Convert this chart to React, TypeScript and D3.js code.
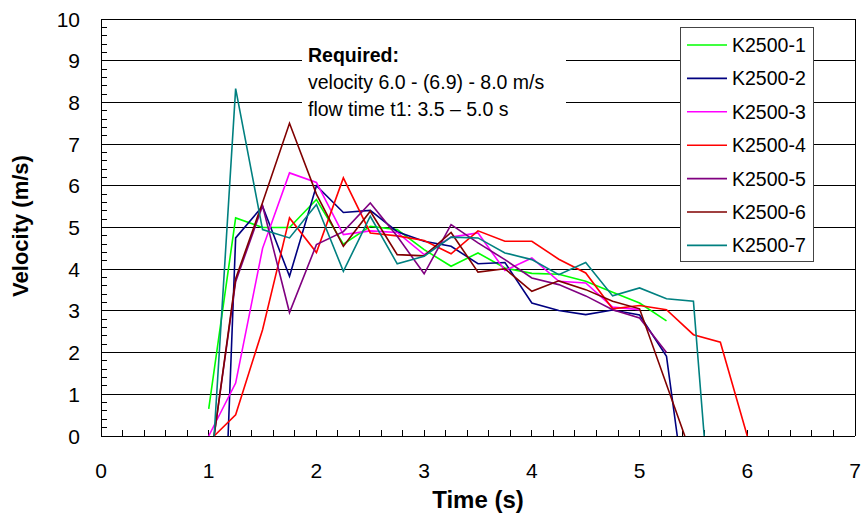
import React from "react";
import * as d3 from "d3";

const names = ["K2500-1", "K2500-2", "K2500-3", "K2500-4", "K2500-5", "K2500-6", "K2500-7"];
const colors = ["#00ff00", "#000080", "#ff00ff", "#ff0000", "#800080", "#800000", "#008080"];

const t1 = [1.0, 1.25, 1.5, 1.75, 2.0, 2.25, 2.5, 2.75, 3.0, 3.25, 3.5, 3.75, 4.0, 4.25, 4.5, 4.75, 5.0, 5.25];
const v1 = [0.65, 5.23, 5.0, 5.0, 5.67, 4.6, 5.03, 4.95, 4.47, 4.07, 4.39, 4.03, 3.9, 3.88, 3.71, 3.45, 3.19, 2.76];

const t2 = [1.18, 1.25, 1.5, 1.75, 2.0, 2.25, 2.5, 2.75, 3.0, 3.25, 3.5, 3.75, 4.0, 4.25, 4.5, 4.75, 5.0, 5.25, 5.35];
const v2 = [0, 4.75, 5.51, 3.83, 6.0, 5.36, 5.41, 4.9, 4.67, 4.55, 4.13, 4.16, 3.19, 3.01, 2.91, 3.02, 2.9, 1.91, 0];

const t3 = [1.0, 1.25, 1.5, 1.75, 2.0, 2.25, 2.5, 2.75, 3.0, 3.25, 3.5, 3.75, 4.0, 4.25, 4.5, 4.75, 5.0];
const v3 = [0, 1.27, 4.5, 6.31, 6.08, 4.83, 4.92, 4.88, 4.35, 4.77, 4.87, 3.97, 4.27, 3.71, 3.67, 3.09, 3.03];

const t4 = [1.05, 1.25, 1.5, 1.75, 2.0, 2.25, 2.5, 2.75, 3.0, 3.25, 3.5, 3.75, 4.0, 4.25, 4.5, 4.75, 5.0, 5.25, 5.5, 5.75, 6.0];
const v4 = [0, 0.51, 2.55, 5.23, 4.4, 6.19, 4.87, 4.8, 4.69, 4.37, 4.92, 4.67, 4.67, 4.24, 3.91, 3.05, 3.13, 3.03, 2.43, 2.25, 0];

const t5 = [1.05, 1.25, 1.5, 1.75, 2.0, 2.25, 2.5, 2.75, 3.0, 3.25, 3.5, 3.75, 4.0, 4.25, 4.5, 4.75, 5.0, 5.25];
const v5 = [0, 3.7, 5.52, 2.96, 4.59, 4.9, 5.59, 4.79, 3.89, 5.07, 4.63, 4.23, 3.79, 3.63, 3.36, 3.03, 2.83, 2.0];

const t6 = [1.05, 1.25, 1.5, 1.75, 2.0, 2.25, 2.5, 2.75, 3.0, 3.25, 3.5, 3.75, 4.0, 4.25, 4.5, 4.75, 5.0, 5.42];
const v6 = [0, 3.77, 5.6, 7.5, 5.8, 4.55, 5.39, 4.35, 4.32, 4.88, 3.93, 4.01, 3.47, 3.72, 3.51, 3.23, 3.05, 0];

const t7 = [1.05, 1.25, 1.5, 1.75, 2.0, 2.25, 2.5, 2.75, 3.0, 3.25, 3.5, 3.75, 4.0, 4.25, 4.5, 4.75, 5.0, 5.25, 5.5, 5.6];
const v7 = [0, 8.33, 4.95, 4.75, 5.55, 3.95, 5.27, 4.13, 4.31, 4.77, 4.75, 4.39, 4.23, 3.87, 4.16, 3.36, 3.55, 3.29, 3.23, 0];

const times = [t1, t2, t3, t4, t5, t6, t7];
const values = [v1, v2, v3, v4, v5, v6, v7];

const xTicks = [0, 1, 2, 3, 4, 5, 6, 7];
const yTicks = [0, 1, 2, 3, 4, 5, 6, 7, 8, 9, 10];
const noteLines = ["velocity 6.0 - (6.9) - 8.0 m/s", "flow time t1: 3.5 \u2013 5.0 s"];

const font = "'Liberation Sans', Arial, sans-serif";

export default function App() {
  const width = 864;
  const height = 518;
  const left = 101, right = 855, top = 19, bottom = 436;

  const x = d3.scaleLinear().domain([0, 7]).range([left, right]);
  const y = d3.scaleLinear().domain([0, 10]).range([bottom, top]);

  const line = d3.line<[number, number]>()
    .x(d => x(d[0]))
    .y(d => y(d[1]));

  const minorX = d3.range(0, 7.001, 0.2);
  const minorY = d3.range(0, 10.001, 0.2);

  // legend placement
  const lgX = 680, lgY = 27, lgW = 133, lgH = 234;
  const rowH = 33.4;

  return (
    <svg width={width} height={height} style={{ position: "absolute", left: 0, top: 0, background: "#fff" }} fontFamily={font}>
      {/* grid */}
      <g stroke="#000" strokeWidth={1} shapeRendering="crispEdges">
        {yTicks.map(v => (
          <line key={v} x1={left} x2={right} y1={y(v)} y2={y(v)} />
        ))}
        <line x1={right} x2={right} y1={top} y2={bottom} />
      </g>

      {/* note box hides grid */}
      <rect x={302} y={32} width={264} height={94} fill="#fff" />
      <text x={308} y={62} fontSize={19.5} fontWeight="bold" fill="#000">Required:</text>
      {noteLines.map((s, i) => (
        <text key={i} x={308} y={89 + i * 26.5} fontSize={19.5} fill="#000">{s}</text>
      ))}

      {/* axes */}
      <g stroke="#000" strokeWidth={1} shapeRendering="crispEdges">
        <line x1={left} x2={left} y1={top} y2={bottom} />
        <line x1={left} x2={right} y1={bottom} y2={bottom} />
        {minorX.map((v, i) => (
          <line key={"mx" + i} x1={x(v)} x2={x(v)} y1={bottom} y2={bottom - 6} />
        ))}
        {minorY.map((v, i) => (
          <line key={"my" + i} x1={left} x2={left + 6} y1={y(v)} y2={y(v)} />
        ))}
      </g>

      {/* series */}
      <g fill="none" strokeWidth={1.6} strokeLinejoin="miter">
        {values.map((vals, i) => (
          <path key={i} stroke={colors[i]} d={line(vals.map((v, j) => [times[i][j], v]) as [number, number][]) || ""} />
        ))}
      </g>

      {/* tick labels */}
      <g fontSize={21} fill="#000">
        {yTicks.map(v => (
          <text key={v} x={80} y={y(v) + 7.5} textAnchor="end">{v}</text>
        ))}
        {xTicks.map(v => (
          <text key={v} x={x(v)} y={478} textAnchor="middle">{v}</text>
        ))}
      </g>

      {/* axis titles */}
      <text x={478} y={508} fontSize={24} fontWeight="bold" textAnchor="middle">Time (s)</text>
      <text transform="translate(28,226) rotate(-90)" fontSize={22} fontWeight="bold" textAnchor="middle">Velocity (m/s)</text>

      {/* legend */}
      <rect x={lgX} y={lgY} width={lgW} height={lgH} fill="#fff" stroke="#444" strokeWidth={1} shapeRendering="crispEdges" />
      {names.map((n, i) => (
        <g key={n} transform={`translate(${lgX}, ${lgY + 18 + i * rowH})`}>
          <line x1={7} x2={47} y1={0} y2={0} stroke={colors[i]} strokeWidth={1.6} />
          <text x={52} y={7} fontSize={19.5} fill="#000">{n}</text>
        </g>
      ))}
    </svg>
  );
}
